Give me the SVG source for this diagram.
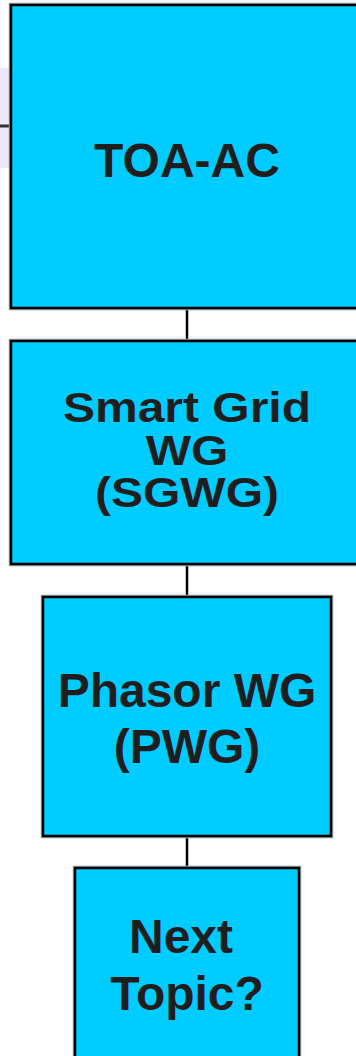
<svg xmlns="http://www.w3.org/2000/svg" width="356" height="1056" viewBox="0 0 356 1056">
<style>
.box{fill:#00ccff;stroke:#000;stroke-width:2.5}
.halo{fill:none;stroke:#a0a0a0;stroke-width:4.5}
.lbl{font-family:"Liberation Sans",Arial,sans-serif;font-weight:bold;font-size:48px;fill:#1e1e1e;text-anchor:middle}
.con{stroke:#000;stroke-width:2.5;fill:none}
</style>
<rect width="356" height="1056" fill="#fff"/>
<g id="side">
<rect x="-2" y="68" width="11" height="100" fill="#ebeaf6"/>
<line x1="0" y1="126" x2="11" y2="126" stroke="#333" stroke-width="3"/>
</g>
<g id="connectors">
<line class="con" x1="187" y1="308" x2="187" y2="341"/>
<line class="con" x1="187" y1="564" x2="187" y2="597"/>
<line class="con" x1="187" y1="836" x2="187" y2="868"/>
</g>
<g id="toa-ac">
<rect class="halo" x="11" y="5" width="352" height="303"/>
<rect class="box" x="11" y="5" width="352" height="303"/>
<text class="lbl" x="187" y="177">TOA-AC</text>
</g>
<g id="sgwg">
<rect class="halo" x="11" y="341" width="352" height="223"/>
<rect class="box" x="11" y="341" width="352" height="223"/>
<g transform="scale(1,0.88)">
<text class="lbl" x="187" y="479.5">Smart Grid</text>
<text class="lbl" x="187" y="528.4">WG</text>
<text class="lbl" x="187" y="576.1">(SGWG)</text>
</g>
</g>
<g id="pwg">
<rect class="halo" x="43" y="597" width="288" height="239"/>
<rect class="box" x="43" y="597" width="288" height="239"/>
<text class="lbl" x="187" y="707">Phasor WG</text>
<text class="lbl" x="187" y="763">(PWG)</text>
</g>
<g id="next">
<rect class="halo" x="75" y="868" width="224" height="200"/>
<rect class="box" x="75" y="868" width="224" height="200"/>
<text class="lbl" x="181" y="953">Next</text>
<text class="lbl" x="187" y="1010">Topic?</text>
</g>
</svg>
